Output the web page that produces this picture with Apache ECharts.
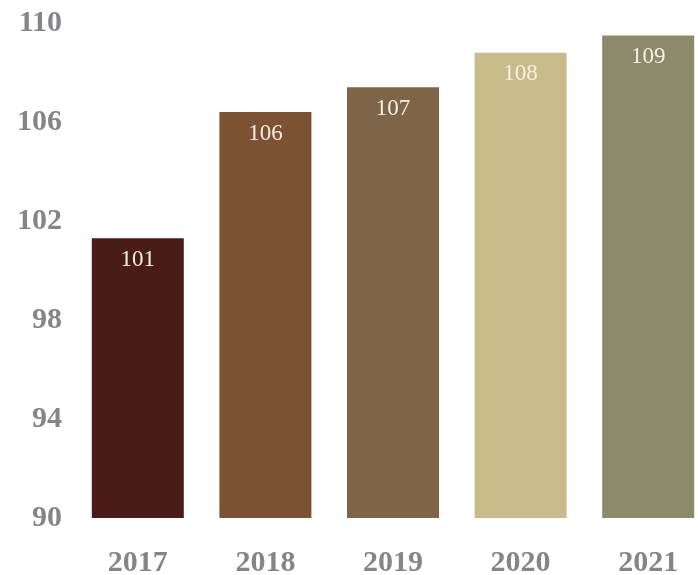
<!DOCTYPE html>
<html>
<head>
<meta charset="utf-8">
<script src="https://cdn.jsdelivr.net/npm/echarts@6/dist/echarts.min.js"></script>
<style>html,body{margin:0;padding:0;background:#fff;}#c{width:698px;height:575px;}</style>
</head>
<body>
<div id="c"></div>
<script>
const years = ['2017', '2018', '2019', '2020', '2021'];
const values = [101.3, 106.4, 107.4, 108.8, 109.5];
const barLabels = ['101', '106', '107', '108', '109'];
const barColors = ['#4a1c17', '#7d5232', '#7f6547', '#c6bc89', '#8b8a6a'];
const yTicks = { min: 90, max: 110, interval: 4 };

const chart = echarts.init(document.getElementById('c'));
chart.setOption({
  animation: false,
  grid: { left: 74, right: -14, top: 23, bottom: 57, containLabel: false, outerBoundsMode: 'none' },
  xAxis: {
    type: 'category',
    data: years,
    axisLine: { show: false },
    axisTick: { show: false },
    axisLabel: {
      margin: 30,
      color: '#858589',
      fontFamily: 'Liberation Serif',
      fontWeight: 'bold',
      fontSize: 30
    }
  },
  yAxis: {
    type: 'value',
    min: yTicks.min,
    max: yTicks.max,
    interval: yTicks.interval,
    splitLine: { show: false },
    axisLine: { show: false },
    axisTick: { show: false },
    axisLabel: {
      margin: 12,
      color: '#858589',
      fontFamily: 'Liberation Serif',
      fontWeight: 'bold',
      fontSize: 30
    }
  },
  series: [{
    type: 'bar',
    barWidth: 92,
    data: values.map((v, i) => ({ value: v, itemStyle: { color: barColors[i] } })),
    label: {
      show: true,
      position: 'insideTop',
      distance: 10,
      color: '#f5f0e6',
      fontFamily: 'Liberation Serif',
      fontSize: 23,
      formatter: p => barLabels[p.dataIndex]
    }
  }]
});
</script>
</body>
</html>
